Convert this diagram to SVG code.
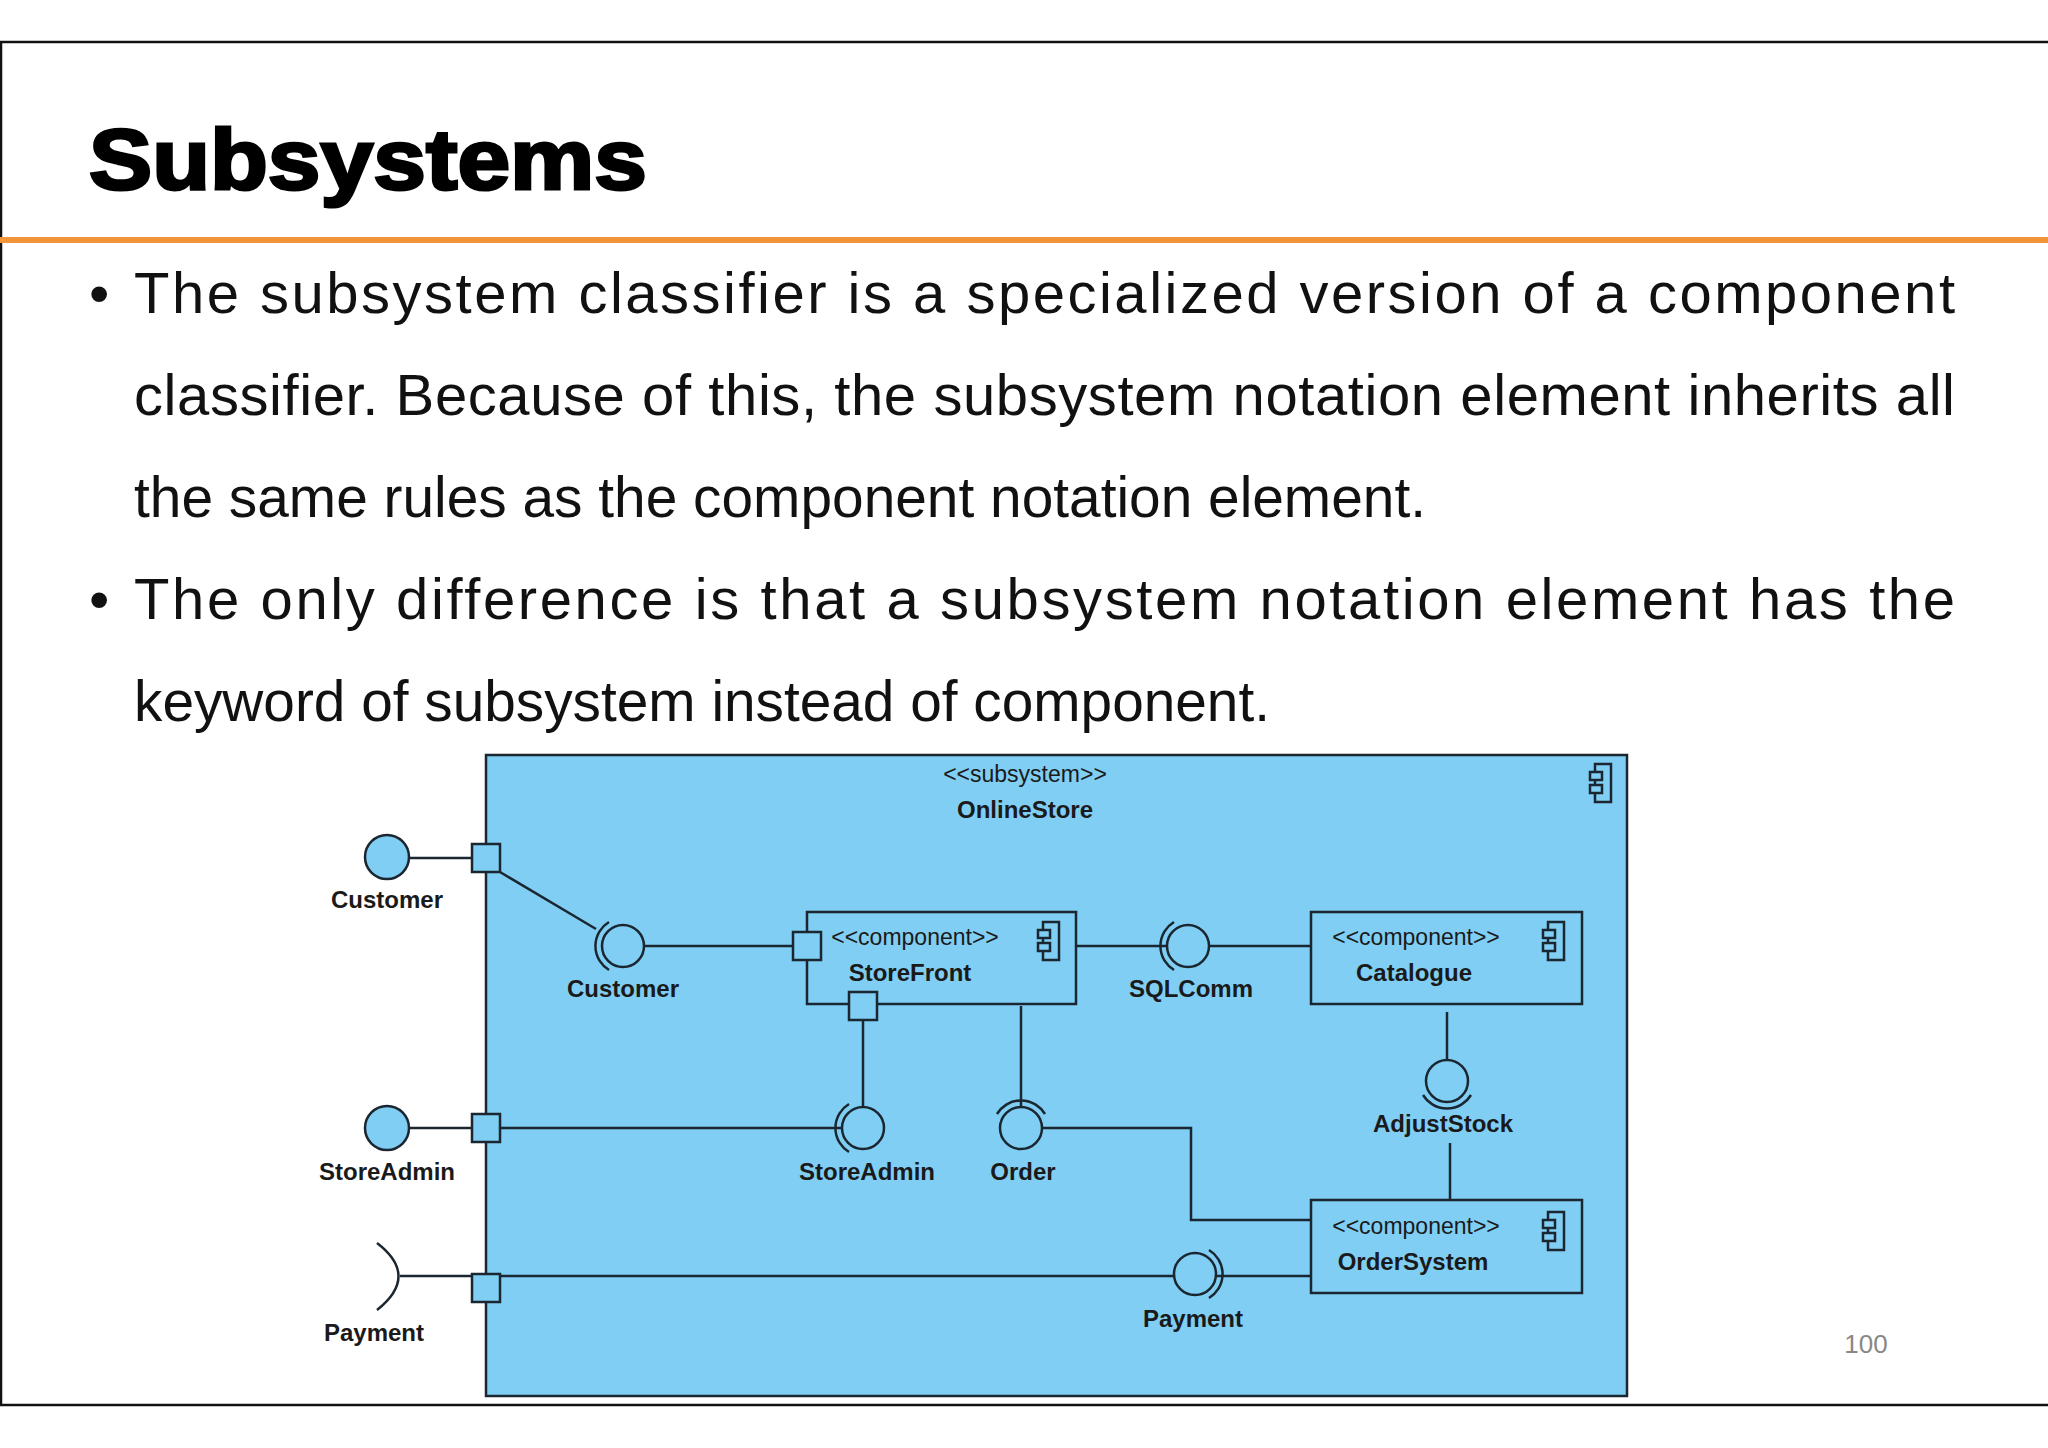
<svg xmlns="http://www.w3.org/2000/svg" width="2048" height="1448" viewBox="0 0 2048 1448">
<style>
.body{font-family:"Liberation Sans",Arial,sans-serif;font-size:58px;fill:#111}
.lbl{font-family:"Liberation Sans",Arial,sans-serif;font-size:24px;font-weight:bold;fill:#1a1a1a;text-anchor:middle}
.st{font-family:"Liberation Sans",Arial,sans-serif;font-size:23px;fill:#1a1a1a;text-anchor:middle}
.ln{stroke:#1a2630;stroke-width:2.5;fill:none}
.box{stroke:#1a2630;stroke-width:2.5;fill:#80cef3}
.ball{stroke:#1a2630;stroke-width:2.5;fill:#80cef3}
</style>
<defs>
<g id="cicon"><rect x="-7" y="-20" width="16" height="38" class="box"/><rect x="-12" y="-12" width="12" height="8" class="box"/><rect x="-12" y="1" width="12" height="8" class="box"/></g>
</defs>
<rect x="0" y="0" width="2048" height="1448" fill="#fff"/>
<rect x="1" y="42" width="2060" height="1363" fill="none" stroke="#111" stroke-width="2.5"/>
<text x="89" y="189" font-family="Liberation Sans,Arial,sans-serif" font-weight="bold" font-size="86" fill="#000" stroke="#000" stroke-width="3" textLength="558" lengthAdjust="spacingAndGlyphs">Subsystems</text>
<rect x="0" y="237" width="2048" height="6" fill="#f0953a"/>
<g class="body">
<text x="89" y="313">•</text>
<text x="134" y="313" textLength="1821" lengthAdjust="spacing">The subsystem classifier is a specialized version of a component</text>
<text x="134" y="415" textLength="1821" lengthAdjust="spacing">classifier. Because of this, the subsystem notation element inherits all</text>
<text x="134" y="517" textLength="1292" lengthAdjust="spacingAndGlyphs">the same rules as the component notation element.</text>
<text x="89" y="619">•</text>
<text x="134" y="619" textLength="1821" lengthAdjust="spacing">The only difference is that a subsystem notation element has the</text>
<text x="134" y="721" textLength="1136" lengthAdjust="spacingAndGlyphs">keyword of subsystem instead of component.</text>
</g>
<g id="OnlineStore">
<rect x="486" y="755" width="1141" height="641" class="box"/>
<text x="1025" y="782" class="st">&lt;&lt;subsystem&gt;&gt;</text>
<text x="1025" y="818" class="lbl">OnlineStore</text>
<use href="#cicon" x="1602" y="784"/>
</g>
<g id="connectors">
<line x1="409" y1="858" x2="486" y2="858" class="ln"/>
<line x1="500" y1="872" x2="596" y2="929" class="ln"/>
<line x1="644" y1="946" x2="807" y2="946" class="ln"/>
<line x1="863" y1="1020" x2="863" y2="1107" class="ln"/>
<line x1="1021" y1="1006" x2="1021" y2="1107" class="ln"/>
<polyline points="1042,1128 1191,1128 1191,1220 1311,1220" class="ln"/>
<line x1="409" y1="1128" x2="486" y2="1128" class="ln"/>
<line x1="500" y1="1128" x2="842" y2="1128" class="ln"/>
<line x1="1076" y1="946" x2="1167" y2="946" class="ln"/>
<line x1="1209" y1="946" x2="1311" y2="946" class="ln"/>
<line x1="1447" y1="1012" x2="1447" y2="1060" class="ln"/>
<line x1="1450" y1="1143" x2="1450" y2="1200" class="ln"/>
<line x1="400" y1="1276" x2="486" y2="1276" class="ln"/>
<line x1="500" y1="1276" x2="1174" y2="1276" class="ln"/>
<line x1="1216" y1="1276" x2="1311" y2="1276" class="ln"/>
</g>
<g id="CustomerExt"><circle cx="387" cy="857" r="22" class="ball"/><text x="387" y="908" class="lbl">Customer</text></g>
<g id="StoreAdminExt"><circle cx="387" cy="1128" r="22" class="ball"/><text x="387" y="1180" class="lbl">StoreAdmin</text></g>
<g id="PaymentExt"><path d="M377,1243 Q420,1276 377,1310" class="ln"/><text x="374" y="1341" class="lbl">Payment</text></g>
<g id="ports">
<rect x="472" y="844" width="28" height="28" class="box"/>
<rect x="472" y="1114" width="28" height="28" class="box"/>
<rect x="472" y="1274" width="28" height="28" class="box"/>
</g>
<g id="CustomerIf"><circle cx="623" cy="946" r="21" class="ball"/><path d="M609,922 A28,28 0 0 0 609,970" class="ln"/><text x="623" y="997" class="lbl">Customer</text></g>
<g id="StoreFront">
<rect x="807" y="912" width="269" height="92" class="box"/>
<rect x="793" y="932" width="28" height="28" class="box"/>
<rect x="849" y="992" width="28" height="28" class="box"/>
<text x="915" y="945" class="st">&lt;&lt;component&gt;&gt;</text>
<text x="910" y="981" class="lbl">StoreFront</text>
<use href="#cicon" x="1050" y="942"/>
</g>
<g id="SQLComm"><circle cx="1188" cy="946" r="21" class="ball"/><path d="M1174,922 A28,28 0 0 0 1174,970" class="ln"/><text x="1191" y="997" class="lbl">SQLComm</text></g>
<g id="Catalogue">
<rect x="1311" y="912" width="271" height="92" class="box"/>
<text x="1416" y="945" class="st">&lt;&lt;component&gt;&gt;</text>
<text x="1414" y="981" class="lbl">Catalogue</text>
<use href="#cicon" x="1555" y="942"/>
</g>
<g id="AdjustStock"><circle cx="1447" cy="1081" r="21" class="ball"/><path d="M1423,1095 A28,28 0 0 0 1471,1095" class="ln"/><text x="1443" y="1132" class="lbl">AdjustStock</text></g>
<g id="StoreAdminIf"><circle cx="863" cy="1128" r="21" class="ball"/><path d="M849,1104 A28,28 0 0 0 849,1152" class="ln"/><text x="867" y="1180" class="lbl">StoreAdmin</text></g>
<g id="Order"><circle cx="1021" cy="1128" r="21" class="ball"/><path d="M997,1114 A28,28 0 0 1 1045,1114" class="ln"/><text x="1023" y="1180" class="lbl">Order</text></g>
<g id="OrderSystem">
<rect x="1311" y="1200" width="271" height="93" class="box"/>
<text x="1416" y="1234" class="st">&lt;&lt;component&gt;&gt;</text>
<text x="1413" y="1270" class="lbl">OrderSystem</text>
<use href="#cicon" x="1555" y="1232"/>
</g>
<g id="PaymentIf"><circle cx="1195" cy="1274" r="21" class="ball"/><path d="M1209,1250 A28,28 0 0 1 1209,1298" class="ln"/><text x="1193" y="1327" class="lbl">Payment</text></g>
<text x="1866" y="1353" font-family="Liberation Sans,Arial,sans-serif" font-size="26" fill="#888" text-anchor="middle">100</text>
</svg>
